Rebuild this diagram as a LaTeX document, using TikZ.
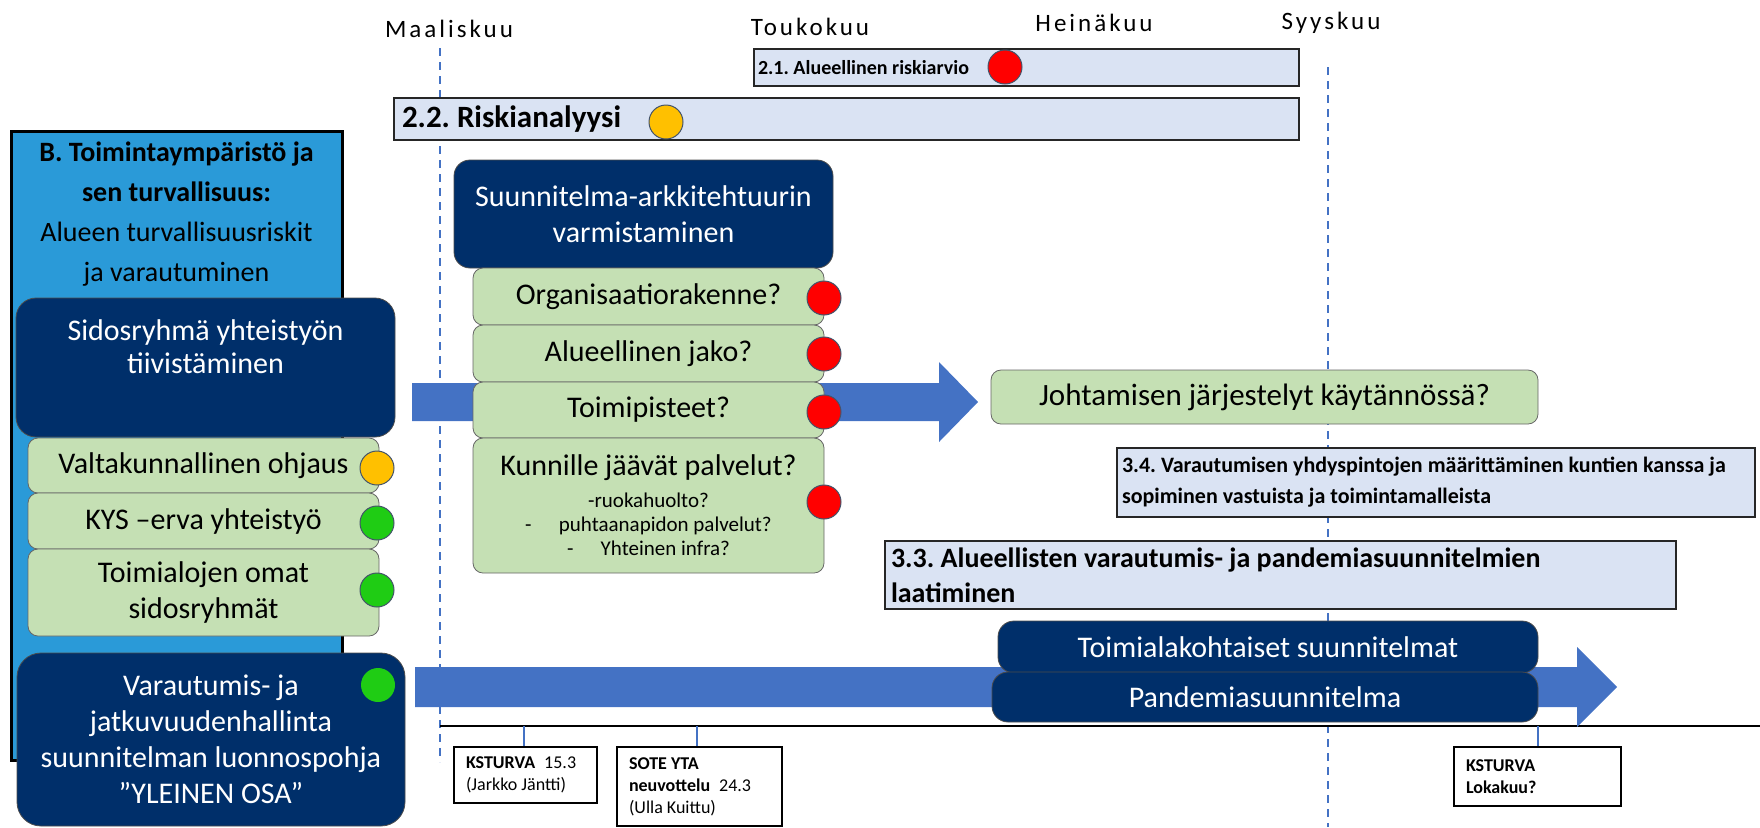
\documentclass[tikz,border=0pt]{standalone}
\usepackage{fontspec}
\setmainfont{Carlito}
\usetikzlibrary{positioning}
\definecolor{boxnavy}{HTML}{002F6A}
\definecolor{boxgreen}{HTML}{C5E0B4}
\definecolor{phasefill}{HTML}{DAE3F3}
\definecolor{areablue}{HTML}{2A9AD8}
\definecolor{arrowblue}{HTML}{4472C4}
\definecolor{dotred}{HTML}{FF0000}
\definecolor{dotyellow}{HTML}{FFC000}
\definecolor{dotgreen}{HTML}{1FCC14}
\definecolor{dotline}{HTML}{44546A}
\newcommand{\plainspaces}{\spaceskip=0pt\relax\xspaceskip=0pt\relax}
\frenchspacing

\begin{document}
\begin{tikzpicture}[x=0.5pt,y=-0.5pt,
  navybox/.style = {draw=black!70, fill=boxnavy, text=white, rounded corners=8pt, inner sep=0pt, align=center, font=\fontsize{15}{18}\selectfont},
  greenbox/.style = {draw=black!60, fill=boxgreen, rounded corners=5pt, inner sep=0pt, align=center, font=\fontsize{15}{18}\selectfont, execute at begin node=\plainspaces},
  phasebox/.style = {draw=black!85, line width=1.3pt, fill=phasefill, inner sep=0pt, align=left, execute at begin node=\plainspaces},
  dotnode/.style = {circle, draw=dotline, line width=0.5pt, minimum size=17pt, inner sep=0pt},
  datebox/.style = {draw=black, line width=0.6pt, fill=white, inner sep=0pt, inner xsep=6pt, align=left, font=\fontsize{9}{11}\selectfont, execute at begin node=\plainspaces},
  monthlabel/.style = {font=\fontsize{12.5}{15}\selectfont\addfontfeature{LetterSpace=12}},
  gridline/.style = {arrowblue, line width=0.7pt, dash pattern=on 4pt off 3pt},
  tickline/.style = {arrowblue, line width=0.6pt}]
\useasboundingbox (0,0) rectangle (1760,827);

% month grid and time line
\coordinate (mar top) at (440,48);
\coordinate (mar bottom) at (440,762);
\coordinate (syy top) at (1328,67);
\coordinate (syy bottom) at (1328,827);
\draw[gridline] (mar top) -- (mar bottom);
\draw[gridline] (syy top) -- (syy bottom);
\coordinate (line start) at (440,726);
\coordinate (line end) at (1760,726);
\draw[line width=0.6pt] (line start) -- (line end);

% block arrows
\fill[arrowblue] (412,383) -- (939,383) -- (939,362) -- (978,402) -- (939,442) -- (939,421) -- (412,421) -- cycle;
\fill[arrowblue] (415,667) -- (1577,667) -- (1577,647) -- (1617,687) -- (1577,727) -- (1577,707) -- (415,707) -- cycle;

% area B
\node[draw=black, line width=1.5pt, fill=areablue, minimum width=165.5pt, minimum height=314.5pt, inner sep=0pt] (area) at (176.5,445.5) {};
\node[anchor=north, align=center, inner sep=0pt, font=\fontsize{14}{20}\selectfont] (areatext) at (176.5,141) {\textbf{B. Toimintaympäristö ja}\\\textbf{sen turvallisuus:}\\Alueen turvallisuusriskit\\ja varautuminen};

% stakeholder column
\node[navybox, minimum width=189.5pt, minimum height=69.5pt, rounded corners=10pt] (sidos) at (205.5,367.5) {};
\node[text=white, align=center, inner sep=0pt, font=\fontsize{15}{16.5}\selectfont] (sidostext) at (205.5,347) {Sidosryhmä yhteistyön\\tiivistäminen};
\node[greenbox, minimum width=175.5pt, minimum height=27.5pt] (valt) at (203.5,465.5) {Valtakunnallinen ohjaus};
\node[greenbox, minimum width=175.5pt, minimum height=28pt] (kys) at (203.5,521) {KYS –erva yhteistyö};
\node[greenbox, minimum width=175.5pt, minimum height=43.5pt] (omat) at (203.5,592.5) {Toimialojen omat\\sidosryhmät};
\node[navybox, minimum width=194pt, minimum height=86.5pt, rounded corners=12pt] (varaut) at (211,739.5) {Varautumis- ja\\jatkuvuudenhallinta\\suunnitelman luonnospohja\\”YLEINEN OSA”};

% architecture column
\node[navybox, minimum width=189.5pt, minimum height=54pt] (arkk) at (643.5,214) {Suunnitelma-arkkitehtuurin\\varmistaminen};
\node[greenbox, minimum width=175.5pt, minimum height=28.5pt] (org) at (648.5,296.5) {Organisaatiorakenne?};
\node[greenbox, minimum width=175.5pt, minimum height=28.5pt] (jako) at (648.5,353.5) {Alueellinen jako?};
\node[greenbox, minimum width=175.5pt, minimum height=28pt] (toimi) at (648.5,410) {Toimipisteet?};
\node[greenbox, align=flush center, minimum width=175.5pt, minimum height=67.5pt, text width=175.5pt] (kunn) at (648.5,505.5)
  {{\fontsize{15}{18}\selectfont Kunnille jäävät palvelut?\par}\vspace{4pt}
   {\fontsize{10.5}{12}\selectfont -ruokahuolto?\\-\hspace{1.3em}puhtaanapidon palvelut?\\-\hspace{1.3em}Yhteinen infra?\par}};
\node[greenbox, minimum width=273.5pt, minimum height=27pt, font=\fontsize{15.5}{18}\selectfont] (johto) at (1264.5,397) {Johtamisen järjestelyt käytännössä?};

% phases
\node[phasebox, minimum height=18.5pt, text width=268.5pt, inner xsep=2pt, font=\bfseries\fontsize{10}{12}\selectfont] (p21) at (1026.5,67.5) {2.1. Alueellinen riskiarvio};
\node[phasebox, minimum height=21pt, text width=444.5pt, inner xsep=4pt, font=\bfseries\fontsize{15.5}{18}\selectfont] (p22) at (846.5,119) {2.2. Riskianalyysi};
\node[phasebox, minimum height=34.5pt, text width=314pt, inner xsep=2.5pt, font=\bfseries\fontsize{11}{15.5}\selectfont] (p34) at (1436,482.5) {3.4. Varautumisen yhdyspintojen määrittäminen kuntien kanssa ja\\sopiminen vastuista ja toimintamalleista};
\node[phasebox, minimum height=34pt, text width=389.5pt, inner xsep=3pt, font=\bfseries\fontsize{14}{17.5}\selectfont] (p33) at (1280.5,575) {3.3. Alueellisten varautumis- ja pandemiasuunnitelmien\\laatiminen};

% plans
\node[navybox, minimum width=270pt, minimum height=26pt] (toimiala) at (1268,647) {Toimialakohtaiset suunnitelmat};
\node[navybox, minimum width=273pt, minimum height=25pt] (pandemia) at (1265,697) {Pandemiasuunnitelma};

% status dots
\node[dotnode, fill=dotred] (d21) at (1005,67) {};
\node[dotnode, fill=dotyellow] (d22) at (666,122) {};
\node[dotnode, fill=dotred] (dorg) at (824,298) {};
\node[dotnode, fill=dotred] (djako) at (824,354) {};
\node[dotnode, fill=dotred] (dtoimi) at (824,412) {};
\node[dotnode, fill=dotred] (dkunn) at (824,502) {};
\node[dotnode, fill=dotyellow] (dvalt) at (377,468) {};
\node[dotnode, fill=dotgreen] (dkys) at (377,523) {};
\node[dotnode, fill=dotgreen] (domat) at (377,590) {};
\node[dotnode, fill=dotgreen, draw=none] (dvaraut) at (378,685) {};

% meetings
\node[datebox, minimum height=28pt, text width=59.5pt] (ks1) at (525.5,775) {\textbf{KSTURVA}\enspace 15.3\\(Jarkko Jäntti)};
\node[datebox, minimum height=39.5pt, text width=70.5pt] (sote) at (699.5,786.5) {\textbf{SOTE YTA}\\\textbf{neuvottelu}\enspace 24.3\\(Ulla Kuittu)};
\node[datebox, minimum height=29.5pt, text width=71.5pt] (ks2) at (1537.5,776.5) {\textbf{KSTURVA}\\\textbf{Lokakuu?}};
\coordinate (t1) at (524,726);
\coordinate (t2) at (697,726);
\coordinate (t3) at (1538,726);
\draw[tickline] (t1) -- (t1 |- ks1.north);
\draw[tickline] (t2) -- (t2 |- sote.north);
\draw[tickline] (t3) -- (t3 |- ks2.north);

% months
\node[monthlabel] (maal) at (449,29) {Maaliskuu};
\node[monthlabel] (touk) at (810,27) {Toukokuu};
\node[monthlabel] (hein) at (1094,23) {Heinäkuu};
\node[monthlabel] (syys) at (1331,23) {Syyskuu};
\end{tikzpicture}
\end{document}
